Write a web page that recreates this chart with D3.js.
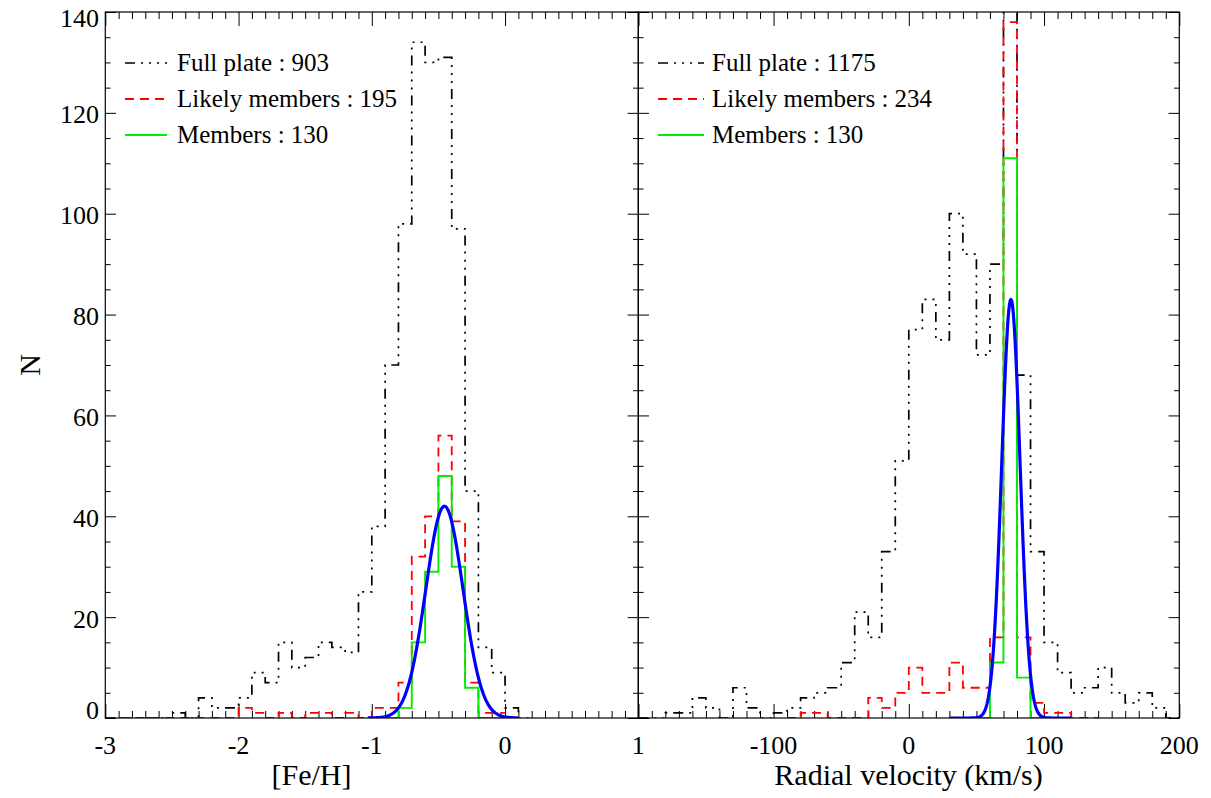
<!DOCTYPE html>
<html><head><meta charset="utf-8">
<script src="https://cdn.jsdelivr.net/npm/d3@7"></script>
<style>
body{margin:0;background:#fff}
svg{display:block}
text{font-family:"Liberation Serif","Times New Roman",Times,serif;fill:#000}
</style>
</head><body>
<svg id="c" width="1211" height="798"></svg>
<script>
// ---------------- data ----------------
const yTickLabels = [0, 20, 40, 60, 80, 100, 120, 140];
const feTickLabels = [-3, -2, -1, 0, 1];
const rvTickLabels = [-100, 0, 100, 200];

// [Fe/H] histograms (bin width 0.1 dex), lower edge of first bin + counts
const feBinWidth = 0.1;
const feFullStart = -3.0;
const feFull = [0,0,0,0,0,1,0,4,2,2, 4,9,7,15,10,12,15,14,13,25, 38,70,98,134,130,131,97,45,14,9, 2,0];
const feLikelyStart = -3.0;
const feLikely = [0,0,0,0,0,0,0,0,0,0, 2,1,0,1,0,1,1,0,1,0, 2,2,7,32,40,56,39,7,1,1];
const feMembersStart = -1.0;
const feMembers = [0,0,2,15,29,48,30,6,0,0];
const feFit = {mean: -0.455, sigma: 0.14, amp: 42, from: -1.03, to: 0.10};

// Radial velocity histograms (bin width 10 km/s)
const rvBinWidth = 10;
const rvFullStart = -200;
const rvFull = [0,0,1,1,4,2,0,6,2,0, 1,2,4,5,6,11,21,16,33,51, 77,83,75,100,92,72,90,259,68,33, 15,9,5,6,10,5,3,5,2,0];
const rvLikelyStart = -90;
const rvLikely = [0,1,1,0,0,0,4,2,5,10, 5,5,11,6,6,16,138,16,3,1, 1,0,0];
const rvMembersStart = 50;
const rvMembers = [0,11,111,8,0];
const rvFit = {mean: 75.5, sigma: 6.8, amp: 83, from: 30, to: 120};

const feLegend = ["Full plate : 903", "Likely members : 195", "Members : 130"];
const rvLegend = ["Full plate : 1175", "Likely members : 234", "Members : 130"];

// ---------------- drawing ----------------
const svg = d3.select("#c");
svg.append("rect").attr("width", 1211).attr("height", 798).attr("fill", "#fff");

const TOP = 12, BOT = 718;
const y = d3.scaleLinear().domain([0, 140]).range([BOT, TOP]);
const xFe = d3.scaleLinear().domain([-3, 1]).range([105.3, 638.3]);
const xRv = d3.scaleLinear().domain([-200, 200]).range([638.3, 1179.3]);

const styles = {
  full:    {stroke: "#000", width: 1.7, dash: "10,6,2,6,2,6,2,6"},
  likely:  {stroke: "#ff0000", width: 1.8, dash: "9,6"},
  members: {stroke: "#00ee00", width: 1.9, dash: null},
  fit:     {stroke: "#0000ff", width: 3.2, dash: null}
};

function rangeStep(a, b, s) {
  const n = Math.round((b - a) / s);
  return d3.range(n + 1).map(i => +(a + i * s).toFixed(6));
}

function drawPanel(o) {
  const x = o.x;
  const [d0, d1] = x.domain();
  const [x0, x1] = x.range();
  const g = svg.append("g");

  const clipId = "clip" + o.id;
  svg.append("clipPath").attr("id", clipId).append("rect")
    .attr("x", x0).attr("y", TOP).attr("width", x1 - x0).attr("height", BOT - TOP);

  const majors = rangeStep(d0, d1, o.major);
  const minors = rangeStep(d0, d1, o.minor).filter(v => !majors.some(m => Math.abs(m - v) < 1e-6));
  const yMaj = rangeStep(0, 140, 20);
  const yMin = rangeStep(0, 140, 5).filter(v => v % 20 !== 0);

  const ax = (gen, tr) => {
    g.append("g").attr("transform", tr).call(gen)
      .call(s => s.select(".domain").remove())
      .call(s => s.selectAll("line").attr("stroke", "#000").attr("stroke-width", 1));
  };
  const XL = 14, XS = 7, YL = 10.7, YS = 5.3;
  ax(d3.axisBottom(x).tickValues(majors).tickSize(-XL).tickFormat(""), `translate(0,${BOT})`);
  ax(d3.axisBottom(x).tickValues(minors).tickSize(-XS).tickFormat(""), `translate(0,${BOT})`);
  ax(d3.axisTop(x).tickValues(majors).tickSize(-XL).tickFormat(""), `translate(0,${TOP})`);
  ax(d3.axisTop(x).tickValues(minors).tickSize(-XS).tickFormat(""), `translate(0,${TOP})`);
  ax(d3.axisLeft(y).tickValues(yMaj).tickSize(-YL).tickFormat(""), `translate(${x0},0)`);
  ax(d3.axisLeft(y).tickValues(yMin).tickSize(-YS).tickFormat(""), `translate(${x0},0)`);
  ax(d3.axisRight(y).tickValues(yMaj).tickSize(-YL).tickFormat(""), `translate(${x1},0)`);
  ax(d3.axisRight(y).tickValues(yMin).tickSize(-YS).tickFormat(""), `translate(${x1},0)`);

  // histograms
  const line = d3.line().x(d => x(d[0])).y(d => y(d[1])).curve(d3.curveStepAfter);
  const hg = g.append("g").attr("clip-path", `url(#${clipId})`);
  o.hists.forEach(h => {
    const pts = h.vals.map((v, i) => [h.start + i * o.binW, v]);
    pts.push([h.start + h.vals.length * o.binW, h.vals[h.vals.length - 1]]);
    const st = styles[h.style];
    hg.append("path").attr("d", line(pts)).attr("fill", "none")
      .attr("stroke", st.stroke).attr("stroke-width", st.width)
      .attr("stroke-dasharray", st.dash);
  });
  // gaussian fit
  const f = o.fit;
  const n = 200;
  const fp = d3.range(n + 1).map(i => {
    const v = f.from + (f.to - f.from) * i / n;
    return [v, f.amp * Math.exp(-0.5 * Math.pow((v - f.mean) / f.sigma, 2))];
  });
  hg.append("path").attr("d", d3.line().x(d => x(d[0])).y(d => y(d[1]))(fp))
    .attr("fill", "none").attr("stroke", styles.fit.stroke).attr("stroke-width", styles.fit.width)
    .attr("stroke-linejoin", "round");

  // frame
  g.append("rect").attr("x", x0).attr("y", TOP).attr("width", x1 - x0).attr("height", BOT - TOP)
    .attr("fill", "none").attr("stroke", "#000").attr("stroke-width", 1.2);

  // x tick labels
  o.labels.forEach(v => {
    g.append("text").attr("x", x(v)).attr("y", 754).attr("text-anchor", "middle")
      .attr("font-size", 26).text(v);
  });

  // legend
  const keys = ["full", "likely", "members"];
  const ly = [63, 99, 135];
  keys.forEach((k, i) => {
    const st = styles[k];
    g.append("line").attr("x1", o.leg[0]).attr("x2", o.leg[1]).attr("y1", ly[i]).attr("y2", ly[i])
      .attr("stroke", st.stroke).attr("stroke-width", st.width).attr("stroke-dasharray", st.dash);
    g.append("text").attr("x", o.leg[2]).attr("y", ly[i] + 8).attr("font-size", 25).text(o.legend[i]);
  });

  // x title
  g.append("text").attr("x", o.titleX).attr("y", 785).attr("text-anchor", "middle")
    .attr("font-size", 30).text(o.title);
}

drawPanel({id: "fe", x: xFe, major: 1, minor: 0.1, binW: feBinWidth, labels: feTickLabels,
  hists: [
    {start: feFullStart, vals: feFull, style: "full"},
    {start: feLikelyStart, vals: feLikely, style: "likely"},
    {start: feMembersStart, vals: feMembers, style: "members"}
  ],
  fit: feFit, legend: feLegend, leg: [125, 167, 177], title: "[Fe/H]", titleX: 311.5});

drawPanel({id: "rv", x: xRv, major: 100, minor: 10, binW: rvBinWidth, labels: rvTickLabels,
  hists: [
    {start: rvFullStart, vals: rvFull, style: "full"},
    {start: rvLikelyStart, vals: rvLikely, style: "likely"},
    {start: rvMembersStart, vals: rvMembers, style: "members"}
  ],
  fit: rvFit, legend: rvLegend, leg: [658, 704, 712], title: "Radial velocity (km/s)", titleX: 908.5});

// y tick labels
yTickLabels.forEach(v => {
  let cy = y(v) + 2;
  if (v === 0) cy = 710;
  if (v === 140) cy = 18;
  svg.append("text").attr("x", 99).attr("y", cy + 8.6).attr("text-anchor", "end")
    .attr("font-size", 26).text(v);
});

// y title
svg.append("text").attr("transform", "translate(40,365) rotate(-90)").attr("text-anchor", "middle")
  .attr("font-size", 30).text("N");
</script>
</body></html>
